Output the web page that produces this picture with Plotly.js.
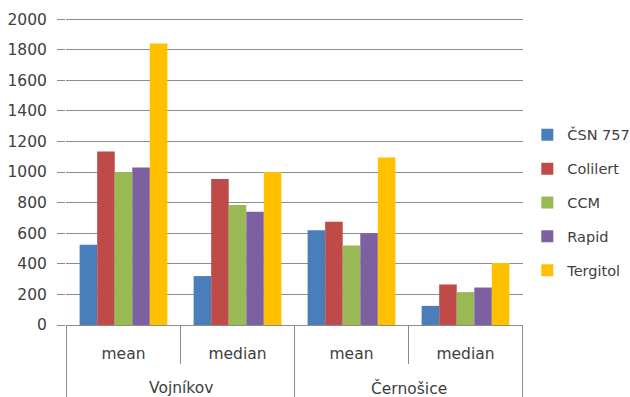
<!DOCTYPE html>
<html>
<head>
<meta charset="utf-8">
<script src="https://cdn.plot.ly/plotly-3.0.1.min.js"></script>
<style>html,body{margin:0;padding:0;background:#fff;}#chart{width:630px;height:397px;}</style>
</head>
<body>
<div id="chart"></div>
<script>
const sites = ["Vojníkov", "Vojníkov", "Černošice", "Černošice"];
const stats = ["mean", "median", "mean", "median"];
const seriesNames = ["ČSN 757", "Colilert", "CCM", "Rapid", "Tergitol"];
const csn = [525, 320, 620, 125];
const colilert = [1135, 955, 675, 265];
const ccm = [1000, 785, 520, 215];
const rapid = [1030, 740, 600, 245];
const tergitol = [1840, 1000, 1095, 405];
const colors = ["#4A7EBB", "#BE4B48", "#98B954", "#7D60A0", "#FFC000"];
const yTicks = [0, 200, 400, 600, 800, 1000, 1200, 1400, 1600, 1800, 2000];

// unique category keys (site + statistic), labelled with the statistic only
const cats = sites.map((s, i) => s + " | " + stats[i]);

// outer groups (sites) from the data
const groups = [];
sites.forEach((s, i) => {
  const g = groups[groups.length - 1];
  if (g && g.name === s) g.end = i; else groups.push({name: s, start: i, end: i});
});

const values = [csn, colilert, ccm, rapid, tergitol];
const traces = values.map((v, i) => ({
  type: "bar",
  name: seriesNames[i],
  x: cats,
  y: v,
  marker: {color: colors[i]},
  legendgroup: "g" + i,
  hoverinfo: "y"
}));

const lineColor = "#8c8c8c";
const annotations = groups.map(g => ({
  xref: "x", yref: "paper",
  x: (g.start + g.end) / 2, y: -0.206,
  xanchor: "center", yanchor: "middle",
  text: g.name, showarrow: false,
  font: {size: 15.5, color: "#404040"}
}));
const shapes = [];
groups.forEach((g, k) => {
  if (k === 0) shapes.push({type: "line", xref: "x", yref: "paper", x0: g.start - 0.5, x1: g.start - 0.5, y0: 0, y1: -0.27, line: {color: lineColor, width: 1}});
  shapes.push({type: "line", xref: "x", yref: "paper", x0: g.end + 0.5, x1: g.end + 0.5, y0: 0, y1: -0.27, line: {color: lineColor, width: 1}});
});

const layout = {
  width: 630, height: 397,
  margin: {l: 66, r: 107, t: 18, b: 72},
  paper_bgcolor: "#fff", plot_bgcolor: "#fff",
  font: {family: "DejaVu Sans, sans-serif", size: 15, color: "#404040"},
  barmode: "group",
  bargap: 0.23,
  bargroupgap: 0,
  showlegend: true,
  legend: {
    xref: "container", yref: "container",
    x: 0.837, xanchor: "left", y: 0.489, yanchor: "middle",
    font: {size: 14.5, color: "#404040"},
    tracegroupgap: 12,
    traceorder: "grouped",
    itemwidth: 30
  },
  xaxis: {
    type: "category",
    tickvals: cats,
    ticktext: stats,
    tickson: "boundaries",
    showgrid: false,
    showline: true, linecolor: lineColor, linewidth: 1,
    ticks: "outside", ticklen: 38, tickcolor: lineColor,
    tickfont: {size: 15.5, color: "#404040"},
    ticklabelstandoff: 14,
    automargin: false
  },
  yaxis: {
    range: [0, 2007],
    tickvals: yTicks,
    ticktext: yTicks.map(String),
    showgrid: true, gridcolor: lineColor, gridwidth: 1,
    zeroline: false,
    showline: false,
    ticks: "outside", ticklen: 8, tickcolor: lineColor,
    tickfont: {size: 15.5, color: "#404040"},
    ticklabelstandoff: 7,
    automargin: false
  },
  annotations: annotations,
  shapes: shapes
};

Plotly.newPlot("chart", traces, layout, {displayModeBar: false, staticPlot: true});
</script>
</body>
</html>
